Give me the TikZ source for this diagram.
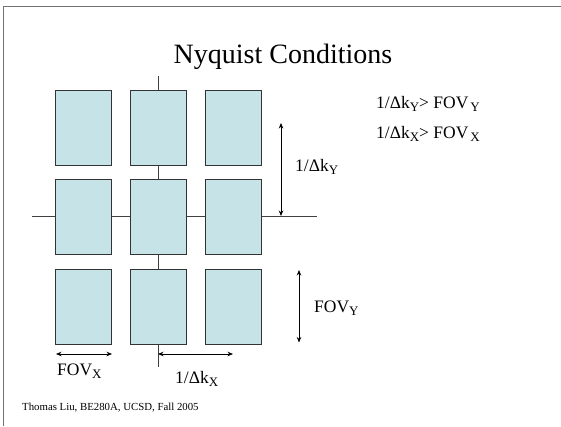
\documentclass[tikz,border=0pt]{standalone}
\usepackage{fontspec}
\setmainfont{Liberation Serif}
\usetikzlibrary{arrows.meta}
\newcommand{\lowsub}[1]{\raisebox{-3.4pt}{\fontsize{13}{13}\selectfont #1}}
\tikzset{
  cell/.style={draw=black!80, line width=0.8pt, fill=cyanbox, minimum width=56pt, minimum height=75pt, inner sep=0pt},
  axis/.style={draw=black!75, line width=0.8pt},
  dim/.style={draw=black, line width=0.7pt, {Stealth[length=5.5pt,width=4.5pt]}-{Stealth[length=5.5pt,width=4.5pt]}},
  lab/.style={font=\fontsize{17.5}{20}\selectfont, inner sep=0pt, anchor=base west},
  frameline/.style={draw=black!55, line width=1.6pt}
}
\definecolor{cyanbox}{RGB}{198,228,231}
\begin{document}
\begin{tikzpicture}[x=1pt,y=-1pt]
\useasboundingbox (0,0) rectangle (561,426);
% slide frame
\coordinate (fl) at (3.5,426);
\coordinate (ftl) at (3.5,6.5);
\coordinate (ftr) at (561,6.5);
\draw[frameline] (fl) -- (ftl) -- (ftr);
% title
\node[font=\fontsize{28}{32}\selectfont, inner sep=0pt, anchor=base] (title) at (283,63) {Nyquist Conditions};
% axes
\coordinate (vtop) at (158,76);
\coordinate (vbot) at (158,367);
\coordinate (hl) at (32,216);
\coordinate (hr) at (317,216);
\draw[axis] (vtop) -- (vbot);
\draw[axis] (hl) -- (hr);
% cells
\foreach \c/\x in {1/83,2/158,3/233}{
  \foreach \r/\y in {1/128,2/217,3/306.5}{
    \node[cell] (b\r\c) at (\x,\y) {};
  }
}
% dimension arrows
\coordinate (dkyt) at (281,123);
\coordinate (dkyb) at (281,216);
\draw[dim] (dkyt) -- (dkyb);
\node[lab] (ldky) at (295,171.5) {1/Δk\lowsub{Y}};
\coordinate (fovyt) at (299,270);
\coordinate (fovyb) at (299,342.5);
\draw[dim] (fovyt) -- (fovyb);
\node[lab] (lfovy) at (314,312.5) {FOV\lowsub{Y}};
\coordinate (fovxl) at (56,354);
\coordinate (fovxr) at (112,354);
\draw[dim] (fovxl) -- (fovxr);
\node[lab] (lfovx) at (57,375) {FOV\lowsub{X}};
\coordinate (dkxl) at (158,354);
\coordinate (dkxr) at (233,354);
\draw[dim] (dkxl) -- (dkxr);
\node[lab] (ldkx) at (175,383) {1/Δk\lowsub{X}};
% conditions
\node[lab] (c1) at (376,108) {1/Δk\lowsub{Y}> FOV\kern2pt\lowsub{Y}};
\node[lab] (c2) at (376,138) {1/Δk\lowsub{X}> FOV\kern2pt\lowsub{X}};
% footer
\node[font=\fontsize{10.8}{12}\selectfont, inner sep=0pt, anchor=base west] (foot) at (22,410) {Thomas Liu, BE280A, UCSD, Fall 2005};
\end{tikzpicture}
\end{document}
